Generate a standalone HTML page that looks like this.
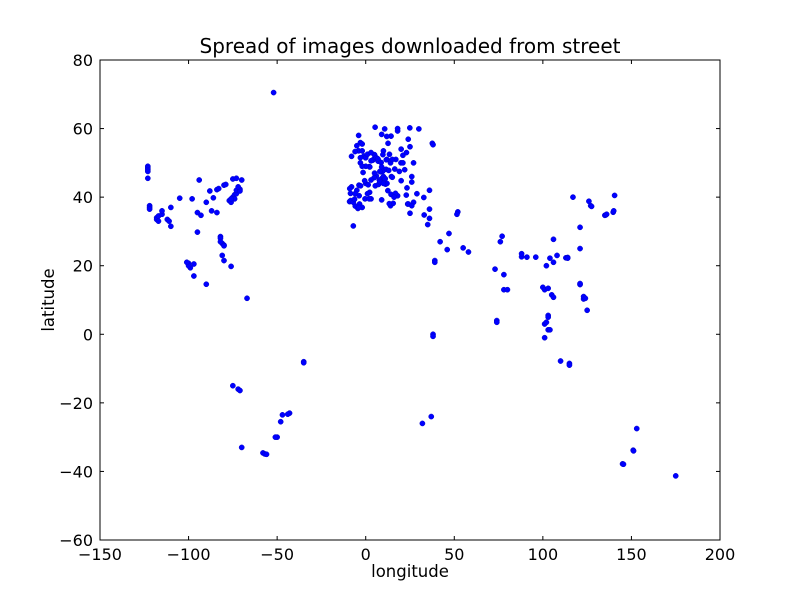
<!DOCTYPE html>
<html><head><meta charset="utf-8"><style>
html,body{margin:0;padding:0;background:#fff;}
svg{display:block;font-family:"DejaVu Sans","Liberation Sans",sans-serif;}
</style></head><body>
<svg id="chart" width="800" height="600">
<rect width="800" height="600" fill="#fff"/>
<text x="410" y="53" font-size="20" text-anchor="middle">Spread of images downloaded from street</text>
<text x="410" y="577" font-size="16.5" text-anchor="middle">longitude</text>
<text x="54" y="300" font-size="16.5" text-anchor="middle" transform="rotate(-90 54 300)">latitude</text>
<g id="points"></g>
<g id="axes"></g>
</svg>
<script>
const xTicks=[-150,-100,-50,0,50,100,150,200];
const yTicks=[-60,-40,-20,0,20,40,60,80];
const lons=[-123,-123,-123,-123,-123,-122,-122,-122,-118,-118,-117,-117,-115,-115,-112,-111,-110,-110,-105,-98,-95,-94,-93,-90,-88,-87,-86,-84,-83,-84,-80,-79,-77,-76,-75,-74,-73,-73,-71,-71,-75,-73,-70,-74,-76,-72,-82,-82,-81,-80,-80,-82,-81,-80,-76,-95,-97,-99,-100,-100,-101,-97,-90,-67,-75,-72,-71,-70,-58,-57,-56,-47,-48,-43,-44,-50,-51,-52,-35,-35,
-5,-3,-2,-4,-2,-1,0,-0.1,1,-3,-6,-8,2,2.3,4,4.4,5,4.9,6,7,7,8.7,8.5,9,10,11.5,13.4,12,14,16.4,19,21,19.9,18,10.7,12.6,24.9,25,24,14.5,15,12.5,9.2,11.2,14.3,7.7,6,5.4,4.8,2.2,-0.4,-3.7,-5.9,-8.6,-9.1,-4.4,-8,-3.8,-2.9,0,1.4,-0.6,-1.5,3,-9,-8.5,5,3,7.2,8,17,20,23.3,26,23.7,22.9,28.9,24,27,32.8,14,15.5,9,13.3,18,16.8,10,13,9.5,8,14.3,11.9,18,5.3,9,30,37.6,38,26,27,22,21,23,20,15,9.7,6.8,11.6,16,12,11,10,-7,-6.3,-5,-3.5,-2,-6,-7,-4,1,3,2,-3,-4,3,0,-2,26,25,33,35,36,36,36,39,39,42,46,47,52,51.5,55,58,38,38,37,32,
73,74,74,76,77,78,78,80,88,88,91,96,100,101,102,101,101,102,103,103,103,103,104,105,106,106,106,104,108,110,113,114,114,115,115,117,121,121,121,121,123,123,124,125,126,127,127.5,135,135.5,136,139.7,140,140.5,145,145.5,151,151.2,153,175];
const lats=[49,48.5,48,47.5,45.5,37.5,37,36.5,34,33.5,33,34.5,35,36,33.5,33,31.5,37,39.7,39.5,35.5,45,34.7,38.5,41.8,36,39.8,42.2,42.5,35.5,43.5,43.7,39,38.5,40,40.7,41,42,42.3,41.8,45.3,45.5,45,39.5,39.5,43,28.5,28,26.5,26,25.8,27,23,21.5,19.8,29.8,20.5,19.4,20.7,20,21,17,14.6,10.5,-15,-16,-16.4,-33,-34.6,-34.9,-35,-23.5,-25.5,-23,-23.3,-30,-30,70.5,-8,-8.3,
55,55.9,55.5,53.5,53.5,52,51.5,51.5,52.5,51.5,53.3,51.9,48.9,48.8,50.8,51,52.3,52.4,51.5,51,50.5,50.1,47.4,48.8,53.5,48.1,52.5,51,50,48.2,47.5,52.2,50,59.3,59.9,55.7,60.2,54.7,56.9,46,45.8,41.9,45.5,43.8,40.8,45,46.2,43.3,45.7,41.4,39.5,40.4,37.4,41.1,38.7,36.7,43,43.5,43.3,44,43.6,44.8,47.2,45,42.5,39,47,50.6,43.7,44.5,51,44.8,42.7,44.4,38,40.6,41,38,38.5,39.9,37.5,38.2,39.2,38.1,40.4,41.1,46,47.8,47.5,47.5,57.8,57.7,60,60.4,58.3,59.9,55.7,55.3,46,50,48,50,53,54,51,52.4,51.2,50.9,40,44,45.4,44,38.5,39.4,42,38,37,41,31.6,37,41,39.5,39.5,50,58,53,49,49,37.5,35.3,34.8,32,33.8,36.5,42,21.5,21,27,24.7,29.4,35.7,35,25.2,24,0,-0.6,-24,-26,
19,4,3.5,27,28.6,17.4,13,13,22.6,23.5,22.5,22.5,13.7,13,20,3,-1,3.5,1.3,5.5,5,13.4,1.3,11.5,10.8,21,27.7,22.2,23,-7.8,22.3,22.4,22.2,-8.5,-9,40,31.2,25,14.5,14.8,10.3,11,10.5,7,38.8,37.5,37.3,34.7,34.8,35,35.6,36,40.5,-37.8,-37.9,-33.8,-34,-27.5,-41.3];
const NS='http://www.w3.org/2000/svg';
const L=100,R=720,T=60,B=540;
function xs(v){return L+(v-xTicks[0])/(xTicks[xTicks.length-1]-xTicks[0])*(R-L);}
function ys(v){return B-(v-yTicks[0])/(yTicks[yTicks.length-1]-yTicks[0])*(B-T);}
function mk(tag,attrs){const e=document.createElementNS(NS,tag);for(const k in attrs)e.setAttribute(k,attrs[k]);return e;}
const pg=document.getElementById('points');
for(let i=0;i<lons.length;i++){
  const c=mk('circle',{cx:xs(lons[i]),cy:ys(lats[i]),r:2.6,fill:'#0000ff',stroke:'#0000cc','stroke-width':0.5});
  
  
  pg.appendChild(c);
}
const ax=document.getElementById('axes');
const fr=mk('rect',{x:L,y:T,width:R-L,height:B-T,fill:'none',stroke:'#000','stroke-width':1});


ax.appendChild(fr);
xTicks.forEach(v=>{
  const x=xs(v);
  ax.appendChild(mk('line',{x1:x,y1:B,x2:x,y2:B-4,stroke:'#000'}));
  ax.appendChild(mk('line',{x1:x,y1:T,x2:x,y2:T+4,stroke:'#000'}));
  const t=mk('text',{x:x,y:B+20,'font-size':16,'text-anchor':'middle'});
  t.textContent=v<0?'\u2212'+(-v):String(v);
  
  
  ax.appendChild(t);
});
yTicks.forEach(v=>{
  const y=ys(v);
  ax.appendChild(mk('line',{x1:L,y1:y,x2:L+4,y2:y,stroke:'#000'}));
  ax.appendChild(mk('line',{x1:R,y1:y,x2:R-4,y2:y,stroke:'#000'}));
  const t=mk('text',{x:L-7,y:y+6,'font-size':16,'text-anchor':'end'});
  t.textContent=v<0?'\u2212'+(-v):String(v);
  
  
  ax.appendChild(t);
});
</script>
</body></html>
